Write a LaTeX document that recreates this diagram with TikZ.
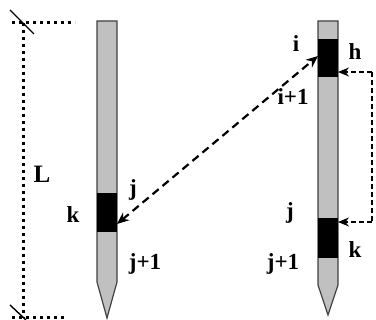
\documentclass[tikz,border=0pt]{standalone}
\usepackage{fontspec}
\setmainfont{Liberation Serif}
\usetikzlibrary{arrows.meta}
\begin{document}
\begin{tikzpicture}[x=1pt,y=-1pt,
  rod/.style={fill=rodgray,draw=black!75,line width=1.2pt,line join=miter},
  seg/.style={fill=black,draw=none,minimum width=20pt,inner sep=0pt,outer sep=0pt},
  lbl/.style={font=\fontsize{23}{24}\selectfont\bfseries,inner sep=0pt},
  dots/.style={line width=3pt,dash pattern=on 3pt off 4pt},
  bigdash/.style={line width=2.2pt,dash pattern=on 8pt off 5pt,{Stealth[length=12pt,width=10pt]}-{Stealth[length=12pt,width=10pt]}},
  brack/.style={line width=1.5pt,dash pattern=on 5pt off 3pt,-{Stealth[length=11pt,width=9pt]}}]
\definecolor{rodgray}{RGB}{192,192,192}
\useasboundingbox (0,0) rectangle (376,320);
% L dimension
\draw[dots] (12,23) -- (75,23);
\draw[dots] (23,23) -- (23,318);
\draw[dots] (12,318) -- (65,318);
\draw[line width=1.4pt] (10,10) -- (34,34);
\draw[line width=1.4pt] (10,305) -- (26,320);
\node[lbl,font=\fontsize{25}{26}\selectfont\bfseries] (L) at (42,174) {L};
% left rod
\draw[rod] (97,21) -- (117,21) -- (117,282) -- (107,318) -- (97,282) -- cycle;
\node[seg,minimum height=39pt] (kL) at (107,212.5) {};
\node[lbl] (lk) at (73,215) {k};
\node[lbl] (lj) at (133,190) {j};
\node[lbl] (lj1) at (145,264) {j+1};
% right rod
\draw[rod] (318,21) -- (338,21) -- (338,285) -- (328,315) -- (318,285) -- cycle;
\node[seg,minimum height=38pt] (hR) at (328,58) {};
\node[seg,minimum height=40pt] (kR) at (328,238) {};
\node[lbl] (ri) at (296,44) {i};
\node[lbl] (rh) at (355,52) {h};
\node[lbl] (ri1) at (293,97) {i+1};
\node[lbl] (rj) at (290,213) {j};
\node[lbl] (rk) at (355,250) {k};
\node[lbl] (rj1) at (283,264) {j+1};
% connectors
\draw[bigdash] (kL.east |- 0,224) -- (hR.west |- 0,56);
\coordinate (bt) at (372,72);
\coordinate (bb) at (372,222);
\draw[brack] (bt) -- (hR.east |- bt);
\draw[line width=1.5pt,dash pattern=on 5pt off 3pt] (bt) -- (bb);
\draw[brack] (bb) -- (kR.east |- bb);
\end{tikzpicture}
\end{document}
